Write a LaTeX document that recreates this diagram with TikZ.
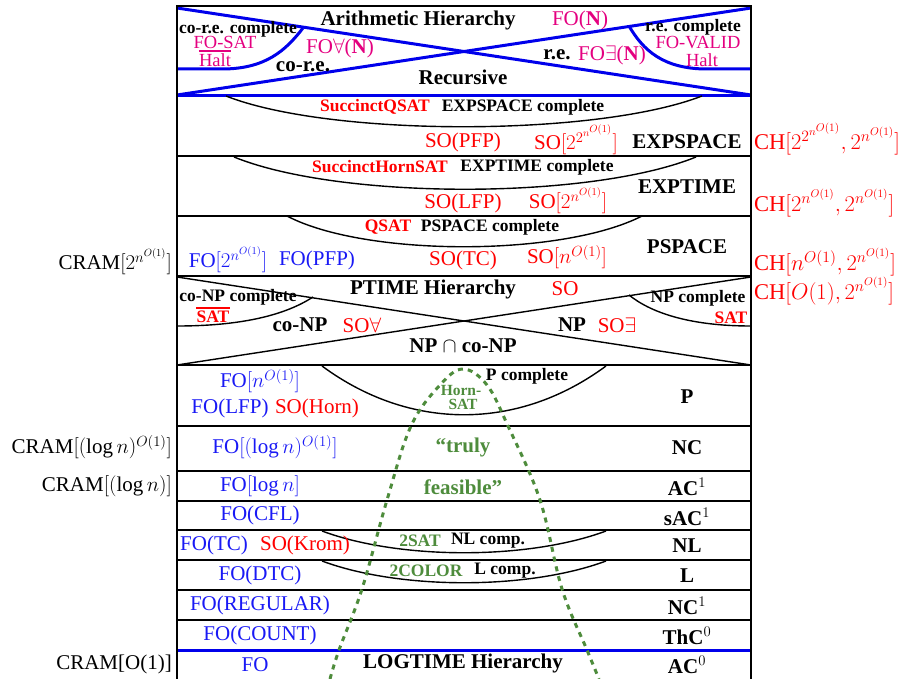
\RequirePackage{fix-cm}
\documentclass[tikz,border=0pt]{standalone}
\usepackage{fontspec}
\setmainfont{Liberation Serif}
\definecolor{mg}{RGB}{228,0,128}
\definecolor{rd}{RGB}{255,0,0}
\definecolor{bl}{RGB}{25,25,245}
\definecolor{gr}{RGB}{78,140,60}
\definecolor{lb}{RGB}{0,0,235}
\begin{document}
\begin{tikzpicture}[x=1pt,y=-1pt,
  t/.style={font=\fontsize{21}{23}\selectfont, inner sep=0pt},
  tc/.style={font=\fontsize{22.5}{24}\selectfont, inner sep=0pt},
  tm/.style={font=\fontsize{18.5}{20}\selectfont, inner sep=0pt},
  tb/.style={font=\fontsize{21}{23}\selectfont\bfseries, inner sep=0pt},
  sb/.style={font=\fontsize{17.5}{19}\selectfont\bfseries, inner sep=0pt},
  hs/.style={font=\fontsize{15.5}{16}\selectfont\bfseries, inner sep=0pt},
  framel/.style={line width=2.5pt, black},
  hl/.style={line width=1.5pt, black},
  hlt/.style={line width=2.6pt, black},
  bline/.style={line width=3pt, lb},
  cv/.style={line width=1.4pt, black},
  ovl/.style={line width=1.8pt},
  gdot/.style={line width=3pt, gr, dash pattern=on 5pt off 5pt}]
\useasboundingbox (0,0) rectangle (904,679);
% corners
\coordinate (TL) at (177,6);
\coordinate (TR) at (751,6);
\coordinate (BL) at (177,679);
\coordinate (BR) at (751,679);
% ---- horizontal lines
\draw[hlt] (177,156) -- (751,156);
\foreach \yy in {216,276,365,426,471,501,530,560,590,620}{\draw[hl] (177,\yy) -- (751,\yy);}
\draw[bline] (177,96) -- (751,96);
\draw[bline] (177,650) -- (751,650);
% ---- top blue X and curves
\draw[bline] (177,8) -- (751,95);
\draw[bline] (177,95) -- (751,8);
\draw[bline] (177,69) -- (222,69) .. controls (266,69) and (286,50) .. (303,28);
\draw[bline] (751,69) -- (707,69) .. controls (663,69) and (643,50) .. (629,26);
% ---- complete curves
\draw[cv] (226,96) .. controls (330,137) and (596,137) .. (702,96);
\draw[cv] (234,157) .. controls (340,200) and (590,200) .. (696,157);
\draw[cv] (287,216) .. controls (365,257) and (562,257) .. (642,216);
\draw[cv] (322,366) .. controls (410,431) and (518,431) .. (606,366);
\draw[cv] (322,531) .. controls (400,560) and (528,560) .. (606,531);
\draw[cv] (322,561) .. controls (400,590) and (528,590) .. (606,561);
% ---- PTIME X and curves
\draw[cv] (177,277) -- (751,365);
\draw[cv] (177,365) -- (751,277);
\draw[cv] (177,326) .. controls (250,326) and (290,312) .. (313,297);
\draw[cv] (751,326) .. controls (688,326) and (650,312) .. (629,295);
% ---- green dotted curve
\draw[gdot] plot[smooth, tension=0.6] coordinates {(330,679) (339,650) (362,589) (387,500) (411,426) (440,385) (463,369) (487,385) (508,426) (540,500) (562,589) (587,650) (599,679)};
% ---- frame
\draw[framel] (176,6) -- (752,6);
\draw[framel] (TL) -- (BL);
\draw[framel] (TR) -- (BR);
% ---- top section text
\node[tb] (ah) at (418,20) {Arithmetic Hierarchy};
\node[t,text=mg] (fon) at (580,20) {FO(\textbf{N})};
\node[sb] (crec) at (238,29) {co-r.e. complete};
\node[tm,text=mg] (fosat) at (225,42) {FO-SAT};
\node[tm,text=mg] (halta) at (215,60) {Halt};
\draw[ovl,mg] ([yshift=2pt]halta.north west) -- ([yshift=2pt]halta.north east);
\node[t,text=mg] (foall) at (340,48) {FO$\forall$(\textbf{N})};
\node[tb] (core) at (303,67) {co-r.e.};
\node[tb] (re) at (557,55) {r.e.};
\node[t,text=mg] (foex) at (612,55) {FO$\exists$(\textbf{N})};
\node[sb] (rec) at (693,27) {r.e. complete};
\node[tm,text=mg] (foval) at (698,43) {FO-VALID};
\node[tm,text=mg] (haltb) at (702,60) {Halt};
\node[tb] (recu) at (463,77) {Recursive};
% ---- EXPSPACE
\node[sb,text=rd] (sqsat) at (375,107) {SuccinctQSAT};
\node[sb] (expsc) at (523,107) {EXPSPACE complete};
\node[t,text=rd] (sopfp) at (463,142) {SO(PFP)};
\node[t,text=rd] (soexps) at (576,140) {SO$[2^{2^{n^{O(1)}}}]$};
\node[tb] (expspace) at (687,142) {EXPSPACE};
\node[tc,text=rd,anchor=west] (chexps) at (754,139) {CH$[2^{2^{n^{O(1)}}}, 2^{n^{O(1)}}]$};
% ---- EXPTIME
\node[sb,text=rd] (shsat) at (380,167) {SuccinctHornSAT};
\node[sb] (exptc) at (537,167) {EXPTIME complete};
\node[t,text=rd] (solfp) at (463,203) {SO(LFP)};
\node[t,text=rd] (soexpt) at (568,201) {SO$[2^{n^{O(1)}}]$};
\node[tb] (exptime) at (687,187) {EXPTIME};
\node[tc,text=rd,anchor=west] (chexpt) at (754,203) {CH$[2^{n^{O(1)}}, 2^{n^{O(1)}}]$};
% ---- PSPACE
\node[sb,text=rd] (qsat) at (388,227) {QSAT};
\node[sb] (pspc) at (490,227) {PSPACE complete};
\node[t,text=bl] (foexp) at (228,260) {FO$[2^{n^{O(1)}}]$};
\node[t,text=bl] (fopfp) at (317,260) {FO(PFP)};
\node[t,text=rd] (sotc) at (463,260) {SO(TC)};
\node[t,text=rd] (sopoly) at (567,257) {SO$[n^{O(1)}]$};
\node[tb] (pspace) at (687,247) {PSPACE};
\node[tc,text=rd,anchor=west] (chps) at (754,262) {CH$[n^{O(1)}, 2^{n^{O(1)}}]$};
\node[t,anchor=east] (cramexp) at (172,262) {CRAM$[2^{n^{O(1)}}]$};
% ---- PTIME hierarchy
\node[tb] (ph) at (433,289) {PTIME Hierarchy};
\node[t,text=rd] (so) at (565,289) {SO};
\node[sb] (conpc) at (238,297) {co-NP complete};
\node[sb,text=rd] (nsat) at (213,317) {SAT};
\draw[ovl,rd] ([yshift=3pt]nsat.north west) -- ([yshift=3pt]nsat.north east);
\node[tb] (conp) at (300,325) {co-NP};
\node[t,text=rd] (soall) at (362,325) {SO$\forall$};
\node[tb] (np) at (572,325) {NP};
\node[t,text=rd] (soex) at (617,325) {SO$\exists$};
\node[sb] (npc) at (698,298) {NP complete};
\node[sb,text=rd] (sat) at (731,318) {SAT};
\node[tb] (npconp) at (463,346) {NP $\cap$ co-NP};
\node[tc,text=rd,anchor=west] (chph) at (754,291) {CH$[O(1), 2^{n^{O(1)}}]$};
% ---- P
\node[t,text=bl] (fopoly) at (260,381) {FO$[n^{O(1)}]$};
\node[t,text=bl] (folfp) at (230,408) {FO(LFP)};
\node[t,text=rd] (sohorn) at (317,408) {SO(Horn)};
\node[sb] (pc) at (527,376) {P complete};
\node[hs,text=gr] (horn) at (461,390) {Horn-};
\node[hs,text=gr] (hsat) at (463,404) {SAT};
\node[tb] (p) at (687,397) {P};
% ---- NC
\node[t,text=bl] (fopolylog) at (275,447) {FO$[(\log n)^{O(1)}]$};
\node[tb,text=gr] (truly) at (463,447) {``truly};
\node[tb] (nc) at (687,448) {NC};
\node[t,anchor=east] (crampl) at (172,447) {CRAM$[(\log n)^{O(1)}]$};
% ---- AC1
\node[t,text=bl] (folog) at (260,486) {FO$[\log n]$};
\node[tb,text=gr] (feas) at (463,487) {feasible''};
\node[tb] (aca) at (687,487) {AC$^1$};
\node[t,anchor=east] (craml) at (172,486) {CRAM$[(\log n)]$};
% ---- sAC1
\node[t,text=bl] (focfl) at (260,515) {FO(CFL)};
\node[tb] (sac) at (687,517) {sAC$^1$};
% ---- NL
\node[t,text=bl] (fotc) at (214,545) {FO(TC)};
\node[t,text=rd] (sokrom) at (305,545) {SO(Krom)};
\node[sb,text=gr] (twosat) at (420,541) {2SAT};
\node[sb] (nlc) at (488,541) {NL comp.};
\node[tb] (nl) at (687,546) {NL};
% ---- L
\node[t,text=bl] (fodtc) at (260,575) {FO(DTC)};
\node[sb,text=gr] (twocol) at (426,571) {2COLOR};
\node[sb] (lc) at (505,571) {L comp.};
\node[tb] (l) at (687,576) {L};
% ---- NC1
\node[t,text=bl] (foreg) at (260,605) {FO(REGULAR)};
\node[tb] (nca) at (687,606) {NC$^1$};
% ---- ThC0
\node[t,text=bl] (focount) at (260,635) {FO(COUNT)};
\node[tb] (thc) at (687,636) {ThC$^0$};
% ---- AC0
\node[t,text=bl] (fo) at (255,665) {FO};
\node[tb] (lh) at (463,663) {LOGTIME Hierarchy};
\node[tb] (acz) at (687,665) {AC$^0$};
\node[t,anchor=east] (cramc) at (172,664) {CRAM[O(1)]};
\end{tikzpicture}
\end{document}
